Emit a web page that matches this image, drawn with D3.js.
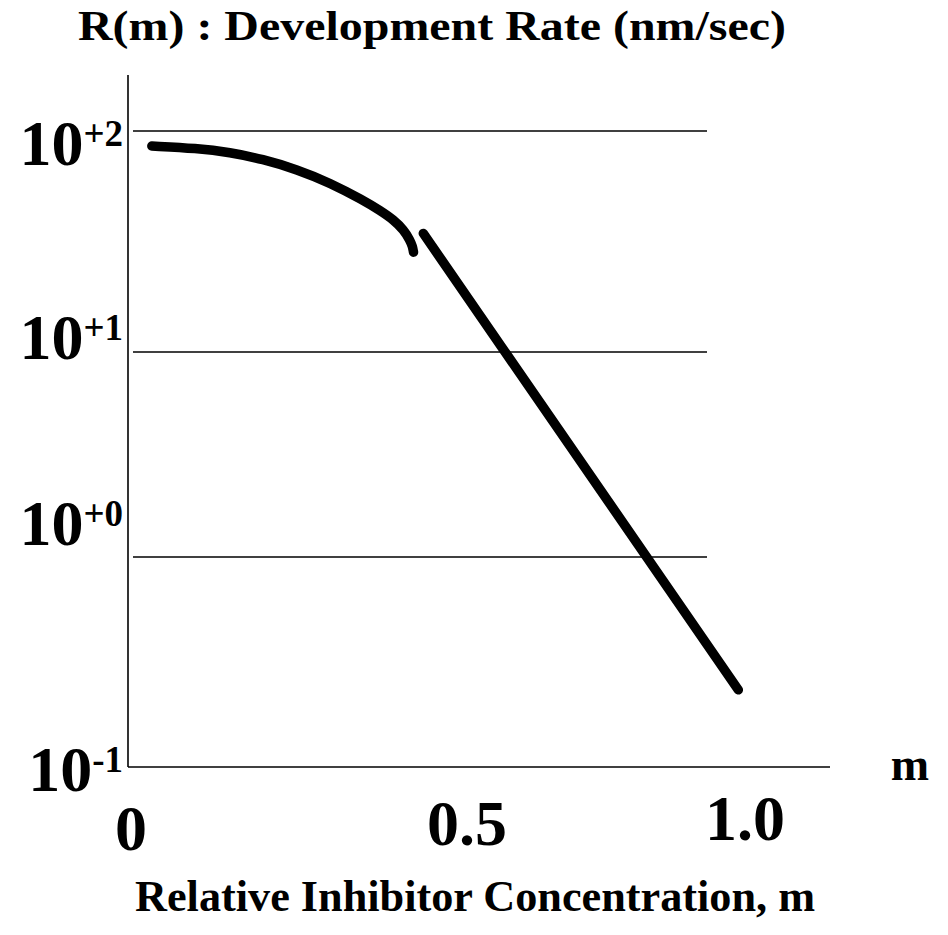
<!DOCTYPE html>
<html>
<head>
<meta charset="utf-8">
<script src="https://cdn.jsdelivr.net/npm/d3@7"></script>
<style>
  html, body { margin: 0; background: #fff; }
  text { font-family: "Liberation Serif", "Times New Roman", serif; font-weight: bold; fill: #000; }
</style>
</head>
<body>
<svg id="chart" width="948" height="935"></svg>
<script>
// Development rate R(m) against relative inhibitor concentration m (log rate axis)

// Curved branch at low inhibitor concentration
const mCurve    = [0.031, 0.098, 0.147, 0.196, 0.247, 0.296, 0.345, 0.3705, 0.391, 0.406, 0.415, 0.419, 0.4204];
const rateCurve = [85.5, 83.5, 80.1, 74.6, 67.0, 58.3, 48.7, 43.7, 39.6, 35.6, 32.1, 30.0, 28.3];

// Straight branch at high inhibitor concentration
const mLine    = [0.435, 0.988];
const rateLine = [34.4, 0.233];

// Axis ticks and labels
const xTicks      = [0, 0.5, 1.0];
const xTickLabels = ["0", "0.5", "1.0"];
const yTicks      = [0.1, 1, 10, 100];
const yTickExps   = ["-1", "+0", "+1", "+2"];

const yTitle = "R(m) : Development Rate (nm/sec)";
const xTitle = "Relative Inhibitor Concentration, m";
const xUnit  = "m";

const svg = d3.select("#chart");

// Scales (hand-drawn axes: piecewise spacing)
const x = d3.scaleLinear().domain([0, 0.5, 1.0]).range([131, 467, 745]);
const y = d3.scaleLog().domain([0.1, 1, 10, 100]).range([767, 557, 352, 131]);

// Layout
const axisX = 128, axisTop = 75, axisRight = 830;
const gridLeft = 133, gridRight = 707;
const yLabelRight = 123;
const yLabelNudge = [24, -12, 7, 34];   // baseline offset from each grid line
const xLabelNudge = [83, 78, 73];       // baseline offset below the x axis

// Horizontal grid lines at each decade (except the bottom, which is the x axis)
svg.append("g")
  .selectAll("line")
  .data(yTicks.filter(v => v > yTicks[0]))
  .join("line")
  .attr("x1", gridLeft).attr("x2", gridRight)
  .attr("y1", d => y(d)).attr("y2", d => y(d))
  .attr("stroke", "#000").attr("stroke-width", 1.6);

// Axis lines
svg.append("line")
  .attr("x1", axisX).attr("x2", axisX)
  .attr("y1", axisTop).attr("y2", y(yTicks[0]))
  .attr("stroke", "#000").attr("stroke-width", 1.6);
svg.append("line")
  .attr("x1", axisX).attr("x2", axisRight)
  .attr("y1", y(yTicks[0])).attr("y2", y(yTicks[0]))
  .attr("stroke", "#000").attr("stroke-width", 1.6);

// Y tick labels: 10 with signed exponent
const yLab = svg.append("g")
  .selectAll("text")
  .data(yTicks)
  .join("text")
  .attr("x", yLabelRight)
  .attr("y", (d, i) => y(d) + yLabelNudge[i])
  .attr("text-anchor", "end");
yLab.append("tspan").attr("font-size", 64).text("10");
yLab.append("tspan").attr("font-size", 37).attr("dy", -19)
  .text((d, i) => yTickExps[i]);

// X tick labels
svg.append("g")
  .selectAll("text")
  .data(xTicks)
  .join("text")
  .attr("x", d => x(d))
  .attr("y", (d, i) => y(yTicks[0]) + xLabelNudge[i])
  .attr("text-anchor", "middle")
  .attr("font-size", 64)
  .text((d, i) => xTickLabels[i]);

// Axis unit and titles
svg.append("text")
  .attr("x", 910).attr("y", 780)
  .attr("text-anchor", "middle")
  .attr("font-size", 46)
  .text(xUnit);

svg.append("text")
  .attr("x", 78).attr("y", 40)
  .attr("font-size", 43)
  .attr("textLength", 708)
  .attr("lengthAdjust", "spacingAndGlyphs")
  .text(yTitle);

svg.append("text")
  .attr("x", 135).attr("y", 911)
  .attr("font-size", 44)
  .attr("textLength", 680)
  .attr("lengthAdjust", "spacingAndGlyphs")
  .text(xTitle);

// Rate curves (smooth B-spline through the sampled points)
const line = d3.line()
  .x(d => x(d[0]))
  .y(d => y(d[1]))
  .curve(d3.curveBasis);

const branches = [
  d3.zip(mCurve, rateCurve),
  d3.zip(mLine, rateLine)
];

svg.append("g")
  .selectAll("path")
  .data(branches)
  .join("path")
  .attr("d", line)
  .attr("fill", "none")
  .attr("stroke", "#000")
  .attr("stroke-width", 9.5)
  .attr("stroke-linecap", "round")
  .attr("stroke-linejoin", "round");
</script>
</body>
</html>
